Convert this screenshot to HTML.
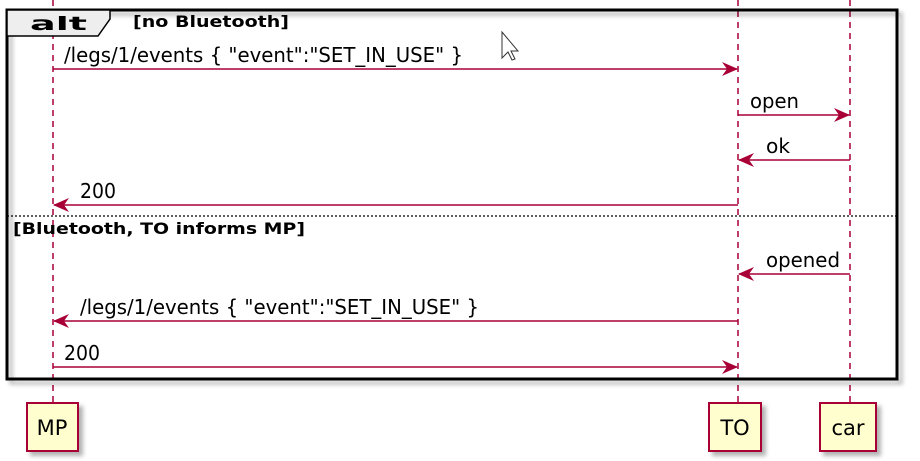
<!DOCTYPE html>
<html><head><meta charset="utf-8"><style>
html,body{margin:0;padding:0;background:#fff;width:920px;height:461px;overflow:hidden}
text{font-family:"DejaVu Sans","Liberation Sans",sans-serif}
</style></head><body>
<svg width="920" height="461" viewBox="0 0 920 461" xmlns="http://www.w3.org/2000/svg">
<defs>
<filter id="sh" x="-20%" y="-20%" width="150%" height="150%"><feDropShadow dx="4" dy="4" stdDeviation="2" flood-color="#000" flood-opacity="0.3"/></filter>
<marker id="ar" viewBox="0 0 16 14" refX="15" refY="7" markerWidth="16" markerHeight="14" markerUnits="userSpaceOnUse" orient="auto"><path d="M0,0 L16,7 L0,14 L5,7 Z" fill="#A80036"/></marker>
</defs>
<g stroke="#A80036" stroke-width="1.5" stroke-dasharray="6,5">
<line x1="53" y1="0" x2="53" y2="403"/>
<line x1="738" y1="0" x2="738" y2="403"/>
<line x1="850" y1="0" x2="850" y2="403"/>
</g>
<rect x="7" y="10" width="890" height="369" fill="none" stroke="#000" stroke-width="3" filter="url(#sh)"/>
<path d="M7,10 L110,10 L110,19 L98,36 L7,36 Z" fill="#EEEEEE" stroke="#000" stroke-width="1.5"/>
<text x="30" y="30" style="font-size:19px;font-weight:bold" textLength="57" lengthAdjust="spacingAndGlyphs">alt</text>
<text x="133" y="27" style="font-size:16px;font-weight:bold" textLength="156" lengthAdjust="spacingAndGlyphs">[no Bluetooth]</text>
<line x1="7" y1="216" x2="897" y2="216" stroke="#000" stroke-width="1.2" stroke-dasharray="2,2"/>
<text x="13" y="234" style="font-size:16px;font-weight:bold" textLength="292" lengthAdjust="spacingAndGlyphs">[Bluetooth, TO informs MP]</text>
<g stroke="#A80036" stroke-width="1.6" marker-end="url(#ar)">
<line x1="53" y1="69" x2="737" y2="69"/>
<line x1="738" y1="115" x2="849" y2="115"/>
<line x1="850" y1="160" x2="739" y2="160"/>
<line x1="738" y1="205" x2="54" y2="205"/>
<line x1="850" y1="274" x2="739" y2="274"/>
<line x1="738" y1="321" x2="54" y2="321"/>
<line x1="53" y1="367" x2="737" y2="367"/>
</g>
<g style="font-size:20px" fill="#000">
<text x="64" y="62" textLength="399" lengthAdjust="spacingAndGlyphs">/legs/1/events { "event":"SET_IN_USE" }</text>
<text x="750" y="108" textLength="49" lengthAdjust="spacingAndGlyphs">open</text>
<text x="766" y="153" textLength="24" lengthAdjust="spacingAndGlyphs">ok</text>
<text x="80" y="198" textLength="36" lengthAdjust="spacingAndGlyphs">200</text>
<text x="766" y="267" textLength="74" lengthAdjust="spacingAndGlyphs">opened</text>
<text x="80" y="314" textLength="399" lengthAdjust="spacingAndGlyphs">/legs/1/events { "event":"SET_IN_USE" }</text>
<text x="64" y="360" textLength="36" lengthAdjust="spacingAndGlyphs">200</text>
</g>
<path d="M502,32 L502,58 L508,52 L512,60 L515,59 L511,51 L518,51 Z" fill="#fff" stroke="#333" stroke-width="1"/>
<g fill="#FEFECE" stroke="#A80036" stroke-width="2" filter="url(#sh)">
<rect x="27" y="403" width="51" height="48"/>
<rect x="709" y="403" width="52" height="48"/>
<rect x="820" y="403" width="56" height="48"/>
</g>
<g style="font-size:21px" text-anchor="middle" fill="#000">
<text x="52" y="435">MP</text>
<text x="735" y="435">TO</text>
<text x="848" y="435">car</text>
</g>
</svg>
</body></html>
